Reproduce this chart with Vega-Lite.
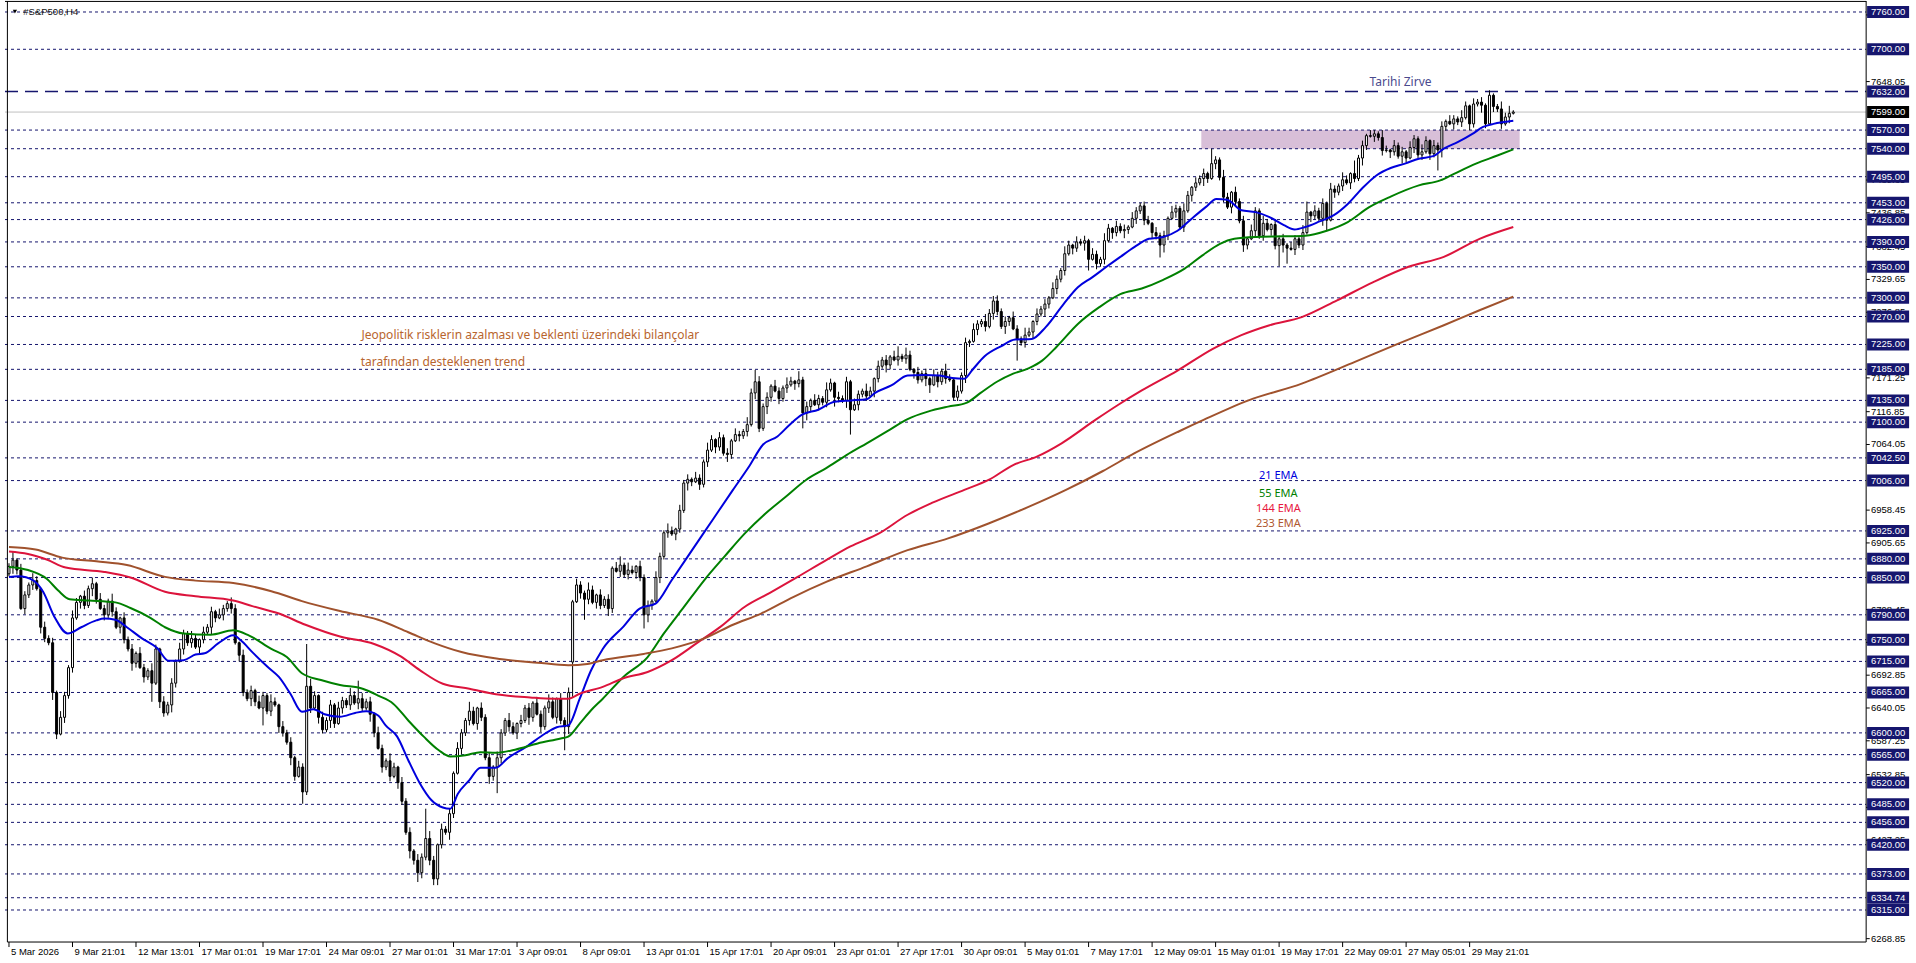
{
"$schema": "https://vega.github.io/schema/vega-lite/v6.json",
"width": 1916, "height": 963,
"autosize": {"type": "fit", "contains": "padding"},
"padding": 0,
"background": "#ffffff",
"config": {"view": {"stroke": null}, "axis": {"disable": true}},
"datasets": {
"one": [{}],
"levels": [
{"p":7760,"label":"7760.00","kind":"level"},{"p":7700,"label":"7700.00","kind":"level"},{"p":7632,"label":"7632.00","kind":"peak"},{"p":7599,"label":"7599.00","kind":"price"},{"p":7570,"label":"7570.00","kind":"level"},{"p":7540,"label":"7540.00","kind":"level"},{"p":7495,"label":"7495.00","kind":"level"},{"p":7453,"label":"7453.00","kind":"level"},{"p":7426,"label":"7426.00","kind":"level"},{"p":7390,"label":"7390.00","kind":"level"},{"p":7350,"label":"7350.00","kind":"level"},{"p":7300,"label":"7300.00","kind":"level"},{"p":7270,"label":"7270.00","kind":"level"},{"p":7225,"label":"7225.00","kind":"level"},{"p":7185,"label":"7185.00","kind":"level"},{"p":7135,"label":"7135.00","kind":"level"},{"p":7100,"label":"7100.00","kind":"level"},{"p":7042.5,"label":"7042.50","kind":"level"},{"p":7006,"label":"7006.00","kind":"level"},{"p":6925,"label":"6925.00","kind":"level"},{"p":6880,"label":"6880.00","kind":"level"},{"p":6850,"label":"6850.00","kind":"level"},{"p":6790,"label":"6790.00","kind":"level"},{"p":6750,"label":"6750.00","kind":"level"},{"p":6715,"label":"6715.00","kind":"level"},{"p":6665,"label":"6665.00","kind":"level"},{"p":6600,"label":"6600.00","kind":"level"},{"p":6565,"label":"6565.00","kind":"level"},{"p":6520,"label":"6520.00","kind":"level"},{"p":6485,"label":"6485.00","kind":"level"},{"p":6456,"label":"6456.00","kind":"level"},{"p":6420,"label":"6420.00","kind":"level"},{"p":6373,"label":"6373.00","kind":"level"},{"p":6334.74,"label":"6334.74","kind":"level"},{"p":6315,"label":"6315.00","kind":"level"}
],
"ticks": [
{"p":6268.85,"label":"6268.85"},{"p":6427.25,"label":"6427.25"},{"p":6480.05,"label":"6480.05"},{"p":6532.85,"label":"6532.85"},{"p":6587.25,"label":"6587.25"},{"p":6640.05,"label":"6640.05"},{"p":6692.85,"label":"6692.85"},{"p":6745.65,"label":"6745.65"},{"p":6798.45,"label":"6798.45"},{"p":6905.65,"label":"6905.65"},{"p":6958.45,"label":"6958.45"},{"p":7064.05,"label":"7064.05"},{"p":7116.85,"label":"7116.85"},{"p":7171.25,"label":"7171.25"},{"p":7276.85,"label":"7276.85"},{"p":7329.65,"label":"7329.65"},{"p":7382.45,"label":"7382.45"},{"p":7436.85,"label":"7436.85"},{"p":7489.65,"label":"7489.65"},{"p":7648.05,"label":"7648.05"},{"p":7755.25,"label":"7755.25"}
],
"times": [
{"i":0,"label":"5 Mar 2026"},{"i":16,"label":"9 Mar 21:01"},{"i":32,"label":"12 Mar 13:01"},{"i":48,"label":"17 Mar 01:01"},{"i":64,"label":"19 Mar 17:01"},{"i":80,"label":"24 Mar 09:01"},{"i":96,"label":"27 Mar 01:01"},{"i":112,"label":"31 Mar 17:01"},{"i":128,"label":"3 Apr 09:01"},{"i":144,"label":"8 Apr 09:01"},{"i":160,"label":"13 Apr 01:01"},{"i":176,"label":"15 Apr 17:01"},{"i":192,"label":"20 Apr 09:01"},{"i":208,"label":"23 Apr 01:01"},{"i":224,"label":"27 Apr 17:01"},{"i":240,"label":"30 Apr 09:01"},{"i":256,"label":"5 May 01:01"},{"i":272,"label":"7 May 17:01"},{"i":288,"label":"12 May 09:01"},{"i":304,"label":"15 May 01:01"},{"i":320,"label":"19 May 17:01"},{"i":336,"label":"22 May 09:01"},{"i":352,"label":"27 May 05:01"},{"i":368,"label":"29 May 21:01"}
],
"candles": [
{"i":0,"o":6856,"h":6873,"l":6852,"c":6868},{"i":1,"o":6868,"h":6891,"l":6856,"c":6878},{"i":2,"o":6878,"h":6881,"l":6855,"c":6862},{"i":3,"o":6862,"h":6872,"l":6798,"c":6800},{"i":4,"o":6800,"h":6828,"l":6791,"c":6822},{"i":5,"o":6822,"h":6842,"l":6817,"c":6838},{"i":6,"o":6838,"h":6857,"l":6830,"c":6845},{"i":7,"o":6845,"h":6852,"l":6829,"c":6832},{"i":8,"o":6832,"h":6834,"l":6760,"c":6770},{"i":9,"o":6770,"h":6779,"l":6746,"c":6752},
{"i":10,"o":6752,"h":6757,"l":6741,"c":6745},{"i":11,"o":6745,"h":6753,"l":6653,"c":6665},{"i":12,"o":6665,"h":6668,"l":6590,"c":6598},{"i":13,"o":6598,"h":6635,"l":6596,"c":6625},{"i":14,"o":6625,"h":6666,"l":6616,"c":6660},{"i":15,"o":6660,"h":6709,"l":6655,"c":6705},{"i":16,"o":6705,"h":6797,"l":6697,"c":6785},{"i":17,"o":6785,"h":6817,"l":6782,"c":6810},{"i":18,"o":6810,"h":6822,"l":6800,"c":6820},{"i":19,"o":6820,"h":6829,"l":6799,"c":6805},
{"i":20,"o":6805,"h":6837,"l":6801,"c":6832},{"i":21,"o":6832,"h":6850,"l":6820,"c":6840},{"i":22,"o":6840,"h":6843,"l":6808,"c":6815},{"i":23,"o":6815,"h":6825,"l":6798,"c":6800},{"i":24,"o":6800,"h":6806,"l":6781,"c":6790},{"i":25,"o":6790,"h":6816,"l":6785,"c":6812},{"i":26,"o":6812,"h":6824,"l":6787,"c":6795},{"i":27,"o":6795,"h":6802,"l":6767,"c":6770},{"i":28,"o":6770,"h":6787,"l":6760,"c":6785},{"i":29,"o":6785,"h":6794,"l":6744,"c":6750},
{"i":30,"o":6750,"h":6755,"l":6731,"c":6735},{"i":31,"o":6735,"h":6743,"l":6700,"c":6712},{"i":32,"o":6712,"h":6731,"l":6705,"c":6728},{"i":33,"o":6728,"h":6738,"l":6703,"c":6705},{"i":34,"o":6705,"h":6711,"l":6681,"c":6690},{"i":35,"o":6690,"h":6704,"l":6685,"c":6700},{"i":36,"o":6700,"h":6712,"l":6650,"c":6680},{"i":37,"o":6680,"h":6742,"l":6677,"c":6735},{"i":38,"o":6735,"h":6737,"l":6640,"c":6650},{"i":39,"o":6650,"h":6659,"l":6626,"c":6632},
{"i":40,"o":6632,"h":6650,"l":6628,"c":6645},{"i":41,"o":6645,"h":6688,"l":6633,"c":6680},{"i":42,"o":6680,"h":6718,"l":6673,"c":6715},{"i":43,"o":6715,"h":6745,"l":6713,"c":6735},{"i":44,"o":6735,"h":6766,"l":6726,"c":6760},{"i":45,"o":6760,"h":6764,"l":6740,"c":6745},{"i":46,"o":6745,"h":6764,"l":6737,"c":6752},{"i":47,"o":6752,"h":6759,"l":6735,"c":6738},{"i":48,"o":6738,"h":6752,"l":6728,"c":6750},{"i":49,"o":6750,"h":6771,"l":6744,"c":6762},
{"i":50,"o":6762,"h":6775,"l":6758,"c":6770},{"i":51,"o":6770,"h":6803,"l":6758,"c":6795},{"i":52,"o":6795,"h":6798,"l":6778,"c":6785},{"i":53,"o":6785,"h":6800,"l":6783,"c":6790},{"i":54,"o":6790,"h":6806,"l":6781,"c":6800},{"i":55,"o":6800,"h":6812,"l":6795,"c":6808},{"i":56,"o":6808,"h":6818,"l":6792,"c":6800},{"i":57,"o":6800,"h":6807,"l":6742,"c":6745},{"i":58,"o":6745,"h":6747,"l":6715,"c":6725},{"i":59,"o":6725,"h":6734,"l":6659,"c":6665},
{"i":60,"o":6665,"h":6670,"l":6651,"c":6655},{"i":61,"o":6655,"h":6676,"l":6643,"c":6668},{"i":62,"o":6668,"h":6671,"l":6643,"c":6650},{"i":63,"o":6650,"h":6660,"l":6638,"c":6640},{"i":64,"o":6640,"h":6666,"l":6612,"c":6660},{"i":65,"o":6660,"h":6664,"l":6630,"c":6635},{"i":66,"o":6635,"h":6662,"l":6627,"c":6650},{"i":67,"o":6650,"h":6657,"l":6642,"c":6645},{"i":68,"o":6645,"h":6647,"l":6600,"c":6610},{"i":69,"o":6610,"h":6619,"l":6594,"c":6600},
{"i":70,"o":6600,"h":6605,"l":6581,"c":6585},{"i":71,"o":6585,"h":6593,"l":6548,"c":6560},{"i":72,"o":6560,"h":6563,"l":6523,"c":6530},{"i":73,"o":6530,"h":6555,"l":6528,"c":6545},{"i":74,"o":6545,"h":6551,"l":6486,"c":6505},{"i":75,"o":6505,"h":6743,"l":6500,"c":6675},{"i":76,"o":6675,"h":6687,"l":6632,"c":6640},{"i":77,"o":6640,"h":6667,"l":6637,"c":6660},{"i":78,"o":6660,"h":6662,"l":6615,"c":6625},{"i":79,"o":6625,"h":6634,"l":6599,"c":6605},
{"i":80,"o":6605,"h":6625,"l":6601,"c":6620},{"i":81,"o":6620,"h":6653,"l":6608,"c":6645},{"i":82,"o":6645,"h":6648,"l":6608,"c":6615},{"i":83,"o":6615,"h":6650,"l":6613,"c":6640},{"i":84,"o":6640,"h":6658,"l":6631,"c":6652},{"i":85,"o":6652,"h":6656,"l":6640,"c":6645},{"i":86,"o":6645,"h":6672,"l":6637,"c":6660},{"i":87,"o":6660,"h":6667,"l":6645,"c":6648},{"i":88,"o":6648,"h":6684,"l":6638,"c":6655},{"i":89,"o":6655,"h":6664,"l":6634,"c":6640},
{"i":90,"o":6640,"h":6655,"l":6636,"c":6650},{"i":91,"o":6650,"h":6658,"l":6618,"c":6630},{"i":92,"o":6630,"h":6633,"l":6593,"c":6600},{"i":93,"o":6600,"h":6610,"l":6573,"c":6575},{"i":94,"o":6575,"h":6581,"l":6536,"c":6545},{"i":95,"o":6545,"h":6559,"l":6540,"c":6555},{"i":96,"o":6555,"h":6567,"l":6522,"c":6530},{"i":97,"o":6530,"h":6552,"l":6527,"c":6545},{"i":98,"o":6545,"h":6547,"l":6510,"c":6520},{"i":99,"o":6520,"h":6529,"l":6484,"c":6490},
{"i":100,"o":6490,"h":6495,"l":6436,"c":6440},{"i":101,"o":6440,"h":6448,"l":6398,"c":6410},{"i":102,"o":6410,"h":6413,"l":6388,"c":6395},{"i":103,"o":6395,"h":6405,"l":6360,"c":6375},{"i":104,"o":6375,"h":6406,"l":6366,"c":6400},{"i":105,"o":6400,"h":6478,"l":6395,"c":6430},{"i":106,"o":6430,"h":6442,"l":6387,"c":6395},{"i":107,"o":6395,"h":6402,"l":6355,"c":6365},{"i":108,"o":6365,"h":6422,"l":6355,"c":6420},{"i":109,"o":6420,"h":6454,"l":6414,"c":6445},
{"i":110,"o":6445,"h":6450,"l":6436,"c":6440},{"i":111,"o":6440,"h":6478,"l":6428,"c":6470},{"i":112,"o":6470,"h":6538,"l":6463,"c":6535},{"i":113,"o":6535,"h":6585,"l":6533,"c":6575},{"i":114,"o":6575,"h":6606,"l":6566,"c":6600},{"i":115,"o":6600,"h":6624,"l":6595,"c":6620},{"i":116,"o":6620,"h":6650,"l":6612,"c":6635},{"i":117,"o":6635,"h":6642,"l":6612,"c":6615},{"i":118,"o":6615,"h":6642,"l":6605,"c":6640},{"i":119,"o":6640,"h":6649,"l":6619,"c":6625},
{"i":120,"o":6625,"h":6630,"l":6556,"c":6560},{"i":121,"o":6560,"h":6568,"l":6518,"c":6530},{"i":122,"o":6530,"h":6548,"l":6523,"c":6545},{"i":123,"o":6545,"h":6570,"l":6503,"c":6560},{"i":124,"o":6560,"h":6606,"l":6551,"c":6600},{"i":125,"o":6600,"h":6624,"l":6595,"c":6620},{"i":126,"o":6620,"h":6632,"l":6602,"c":6610},{"i":127,"o":6610,"h":6617,"l":6597,"c":6600},{"i":128,"o":6600,"h":6617,"l":6590,"c":6615},{"i":129,"o":6615,"h":6629,"l":6609,"c":6620},
{"i":130,"o":6620,"h":6645,"l":6616,"c":6640},{"i":131,"o":6640,"h":6648,"l":6613,"c":6625},{"i":132,"o":6625,"h":6651,"l":6618,"c":6648},{"i":133,"o":6648,"h":6658,"l":6628,"c":6630},{"i":134,"o":6630,"h":6636,"l":6601,"c":6610},{"i":135,"o":6610,"h":6644,"l":6605,"c":6640},{"i":136,"o":6640,"h":6662,"l":6632,"c":6650},{"i":137,"o":6650,"h":6657,"l":6622,"c":6625},{"i":138,"o":6625,"h":6657,"l":6615,"c":6655},{"i":139,"o":6655,"h":6664,"l":6614,"c":6620},
{"i":140,"o":6620,"h":6625,"l":6572,"c":6610},{"i":141,"o":6610,"h":6673,"l":6598,"c":6665},{"i":142,"o":6714,"h":6814,"l":6658,"c":6811},{"i":143,"o":6811,"h":6848,"l":6809,"c":6838},{"i":144,"o":6838,"h":6844,"l":6816,"c":6825},{"i":145,"o":6825,"h":6829,"l":6782,"c":6815},{"i":146,"o":6815,"h":6842,"l":6807,"c":6830},{"i":147,"o":6830,"h":6837,"l":6807,"c":6810},{"i":148,"o":6810,"h":6824,"l":6800,"c":6822},{"i":149,"o":6822,"h":6831,"l":6799,"c":6805},
{"i":150,"o":6805,"h":6820,"l":6801,"c":6815},{"i":151,"o":6815,"h":6823,"l":6788,"c":6800},{"i":152,"o":6800,"h":6868,"l":6793,"c":6865},{"i":153,"o":6865,"h":6875,"l":6858,"c":6860},{"i":154,"o":6860,"h":6884,"l":6851,"c":6870},{"i":155,"o":6870,"h":6874,"l":6850,"c":6855},{"i":156,"o":6855,"h":6874,"l":6847,"c":6862},{"i":157,"o":6862,"h":6869,"l":6855,"c":6858},{"i":158,"o":6858,"h":6870,"l":6848,"c":6868},{"i":159,"o":6868,"h":6877,"l":6844,"c":6850},
{"i":160,"o":6850,"h":6855,"l":6768,"c":6790},{"i":161,"o":6790,"h":6813,"l":6778,"c":6805},{"i":162,"o":6805,"h":6815,"l":6798,"c":6812},{"i":163,"o":6812,"h":6860,"l":6810,"c":6850},{"i":164,"o":6850,"h":6890,"l":6841,"c":6884},{"i":165,"o":6884,"h":6926,"l":6879,"c":6922},{"i":166,"o":6922,"h":6937,"l":6914,"c":6925},{"i":167,"o":6925,"h":6932,"l":6917,"c":6920},{"i":168,"o":6920,"h":6930,"l":6910,"c":6928},{"i":169,"o":6928,"h":6967,"l":6922,"c":6958},
{"i":170,"o":6958,"h":7007,"l":6954,"c":7002},{"i":171,"o":7002,"h":7016,"l":6990,"c":7008},{"i":172,"o":7008,"h":7011,"l":6997,"c":7004},{"i":173,"o":7004,"h":7020,"l":7002,"c":7010},{"i":174,"o":7010,"h":7016,"l":6991,"c":7000},{"i":175,"o":7000,"h":7040,"l":6995,"c":7036},{"i":176,"o":7036,"h":7067,"l":7028,"c":7055},{"i":177,"o":7055,"h":7079,"l":7052,"c":7072},{"i":178,"o":7072,"h":7074,"l":7050,"c":7060},{"i":179,"o":7060,"h":7084,"l":7054,"c":7075},
{"i":180,"o":7075,"h":7080,"l":7046,"c":7050},{"i":181,"o":7050,"h":7058,"l":7036,"c":7048},{"i":182,"o":7048,"h":7073,"l":7041,"c":7070},{"i":183,"o":7070,"h":7090,"l":7068,"c":7080},{"i":184,"o":7080,"h":7086,"l":7069,"c":7078},{"i":185,"o":7078,"h":7089,"l":7073,"c":7085},{"i":186,"o":7085,"h":7108,"l":7077,"c":7096},{"i":187,"o":7096,"h":7154,"l":7093,"c":7147},{"i":188,"o":7147,"h":7184,"l":7137,"c":7165},{"i":189,"o":7165,"h":7174,"l":7084,"c":7090},
{"i":190,"o":7090,"h":7130,"l":7086,"c":7125},{"i":191,"o":7125,"h":7148,"l":7113,"c":7140},{"i":192,"o":7140,"h":7161,"l":7133,"c":7158},{"i":193,"o":7158,"h":7168,"l":7148,"c":7150},{"i":194,"o":7150,"h":7156,"l":7129,"c":7138},{"i":195,"o":7138,"h":7159,"l":7133,"c":7155},{"i":196,"o":7155,"h":7172,"l":7147,"c":7160},{"i":197,"o":7160,"h":7173,"l":7157,"c":7166},{"i":198,"o":7166,"h":7168,"l":7152,"c":7162},{"i":199,"o":7162,"h":7182,"l":7156,"c":7168},
{"i":200,"o":7168,"h":7173,"l":7090,"c":7115},{"i":201,"o":7115,"h":7133,"l":7103,"c":7125},{"i":202,"o":7125,"h":7138,"l":7118,"c":7135},{"i":203,"o":7135,"h":7145,"l":7126,"c":7128},{"i":204,"o":7128,"h":7144,"l":7119,"c":7138},{"i":205,"o":7138,"h":7142,"l":7127,"c":7132},{"i":206,"o":7132,"h":7164,"l":7124,"c":7152},{"i":207,"o":7152,"h":7170,"l":7149,"c":7163},{"i":208,"o":7163,"h":7165,"l":7125,"c":7140},{"i":209,"o":7140,"h":7149,"l":7132,"c":7138},
{"i":210,"o":7138,"h":7143,"l":7131,"c":7135},{"i":211,"o":7135,"h":7173,"l":7123,"c":7165},{"i":212,"o":7165,"h":7168,"l":7080,"c":7120},{"i":213,"o":7120,"h":7138,"l":7118,"c":7128},{"i":214,"o":7128,"h":7151,"l":7119,"c":7145},{"i":215,"o":7145,"h":7154,"l":7140,"c":7150},{"i":216,"o":7150,"h":7162,"l":7134,"c":7142},{"i":217,"o":7142,"h":7157,"l":7139,"c":7150},{"i":218,"o":7150,"h":7172,"l":7140,"c":7170},{"i":219,"o":7170,"h":7199,"l":7164,"c":7190},
{"i":220,"o":7190,"h":7205,"l":7186,"c":7200},{"i":221,"o":7200,"h":7208,"l":7180,"c":7192},{"i":222,"o":7192,"h":7208,"l":7185,"c":7205},{"i":223,"o":7205,"h":7215,"l":7198,"c":7200},{"i":224,"o":7200,"h":7222,"l":7191,"c":7206},{"i":225,"o":7206,"h":7210,"l":7197,"c":7202},{"i":226,"o":7202,"h":7220,"l":7194,"c":7208},{"i":227,"o":7208,"h":7215,"l":7182,"c":7185},{"i":228,"o":7185,"h":7187,"l":7170,"c":7180},{"i":229,"o":7180,"h":7189,"l":7162,"c":7168},
{"i":230,"o":7168,"h":7183,"l":7164,"c":7178},{"i":231,"o":7178,"h":7186,"l":7158,"c":7170},{"i":232,"o":7170,"h":7173,"l":7147,"c":7160},{"i":233,"o":7160,"h":7185,"l":7158,"c":7175},{"i":234,"o":7175,"h":7181,"l":7156,"c":7165},{"i":235,"o":7165,"h":7186,"l":7160,"c":7182},{"i":236,"o":7182,"h":7194,"l":7162,"c":7170},{"i":237,"o":7170,"h":7177,"l":7165,"c":7168},{"i":238,"o":7168,"h":7170,"l":7135,"c":7140},{"i":239,"o":7140,"h":7159,"l":7134,"c":7150},
{"i":240,"o":7150,"h":7180,"l":7146,"c":7175},{"i":241,"o":7175,"h":7236,"l":7163,"c":7228},{"i":242,"o":7228,"h":7233,"l":7221,"c":7230},{"i":243,"o":7230,"h":7259,"l":7228,"c":7249},{"i":244,"o":7249,"h":7264,"l":7240,"c":7258},{"i":245,"o":7258,"h":7266,"l":7253,"c":7262},{"i":246,"o":7262,"h":7274,"l":7246,"c":7254},{"i":247,"o":7254,"h":7282,"l":7251,"c":7275},{"i":248,"o":7275,"h":7303,"l":7265,"c":7295},{"i":249,"o":7295,"h":7304,"l":7272,"c":7278},
{"i":250,"o":7278,"h":7283,"l":7250,"c":7254},{"i":251,"o":7254,"h":7270,"l":7242,"c":7262},{"i":252,"o":7262,"h":7271,"l":7255,"c":7268},{"i":253,"o":7268,"h":7278,"l":7248,"c":7250},{"i":254,"o":7250,"h":7256,"l":7199,"c":7234},{"i":255,"o":7234,"h":7238,"l":7223,"c":7228},{"i":256,"o":7228,"h":7252,"l":7220,"c":7240},{"i":257,"o":7240,"h":7252,"l":7237,"c":7245},{"i":258,"o":7245,"h":7264,"l":7235,"c":7262},{"i":259,"o":7262,"h":7283,"l":7256,"c":7274},
{"i":260,"o":7274,"h":7287,"l":7270,"c":7282},{"i":261,"o":7282,"h":7298,"l":7270,"c":7290},{"i":262,"o":7290,"h":7303,"l":7283,"c":7300},{"i":263,"o":7300,"h":7325,"l":7298,"c":7315},{"i":264,"o":7315,"h":7336,"l":7306,"c":7330},{"i":265,"o":7330,"h":7348,"l":7325,"c":7344},{"i":266,"o":7344,"h":7383,"l":7336,"c":7371},{"i":267,"o":7371,"h":7392,"l":7368,"c":7385},{"i":268,"o":7385,"h":7387,"l":7370,"c":7380},{"i":269,"o":7380,"h":7399,"l":7374,"c":7390},
{"i":270,"o":7390,"h":7395,"l":7384,"c":7388},{"i":271,"o":7388,"h":7400,"l":7376,"c":7392},{"i":272,"o":7392,"h":7395,"l":7344,"c":7362},{"i":273,"o":7362,"h":7380,"l":7360,"c":7370},{"i":274,"o":7370,"h":7376,"l":7346,"c":7355},{"i":275,"o":7355,"h":7366,"l":7350,"c":7362},{"i":276,"o":7362,"h":7404,"l":7354,"c":7392},{"i":277,"o":7392,"h":7419,"l":7389,"c":7412},{"i":278,"o":7412,"h":7414,"l":7395,"c":7405},{"i":279,"o":7405,"h":7424,"l":7399,"c":7415},
{"i":280,"o":7415,"h":7420,"l":7404,"c":7408},{"i":281,"o":7408,"h":7418,"l":7396,"c":7410},{"i":282,"o":7410,"h":7417,"l":7403,"c":7414},{"i":283,"o":7414,"h":7438,"l":7412,"c":7428},{"i":284,"o":7428,"h":7446,"l":7419,"c":7440},{"i":285,"o":7440,"h":7453,"l":7435,"c":7448},{"i":286,"o":7448,"h":7455,"l":7417,"c":7425},{"i":287,"o":7425,"h":7432,"l":7417,"c":7420},{"i":288,"o":7420,"h":7422,"l":7395,"c":7405},{"i":289,"o":7405,"h":7414,"l":7394,"c":7400},
{"i":290,"o":7400,"h":7405,"l":7365,"c":7385},{"i":291,"o":7385,"h":7408,"l":7373,"c":7400},{"i":292,"o":7400,"h":7431,"l":7393,"c":7428},{"i":293,"o":7428,"h":7448,"l":7426,"c":7438},{"i":294,"o":7438,"h":7450,"l":7429,"c":7444},{"i":295,"o":7444,"h":7448,"l":7409,"c":7414},{"i":296,"o":7414,"h":7452,"l":7406,"c":7440},{"i":297,"o":7440,"h":7472,"l":7437,"c":7465},{"i":298,"o":7465,"h":7480,"l":7455,"c":7478},{"i":299,"o":7478,"h":7494,"l":7472,"c":7485},
{"i":300,"o":7485,"h":7497,"l":7481,"c":7492},{"i":301,"o":7492,"h":7508,"l":7480,"c":7500},{"i":302,"o":7500,"h":7503,"l":7485,"c":7492},{"i":303,"o":7492,"h":7540,"l":7490,"c":7516},{"i":304,"o":7516,"h":7528,"l":7507,"c":7522},{"i":305,"o":7522,"h":7526,"l":7489,"c":7494},{"i":306,"o":7494,"h":7506,"l":7454,"c":7462},{"i":307,"o":7462,"h":7469,"l":7443,"c":7446},{"i":308,"o":7446,"h":7472,"l":7436,"c":7470},{"i":309,"o":7470,"h":7479,"l":7449,"c":7455},
{"i":310,"o":7455,"h":7460,"l":7420,"c":7424},{"i":311,"o":7424,"h":7432,"l":7374,"c":7385},{"i":312,"o":7385,"h":7398,"l":7378,"c":7395},{"i":313,"o":7395,"h":7418,"l":7393,"c":7408},{"i":314,"o":7408,"h":7446,"l":7399,"c":7440},{"i":315,"o":7440,"h":7444,"l":7395,"c":7400},{"i":316,"o":7400,"h":7432,"l":7392,"c":7420},{"i":317,"o":7420,"h":7427,"l":7407,"c":7410},{"i":318,"o":7410,"h":7420,"l":7400,"c":7418},{"i":319,"o":7418,"h":7427,"l":7378,"c":7384},
{"i":320,"o":7384,"h":7400,"l":7351,"c":7395},{"i":321,"o":7395,"h":7403,"l":7373,"c":7385},{"i":322,"o":7385,"h":7388,"l":7355,"c":7380},{"i":323,"o":7380,"h":7390,"l":7376,"c":7378},{"i":324,"o":7378,"h":7401,"l":7369,"c":7395},{"i":325,"o":7395,"h":7399,"l":7380,"c":7385},{"i":326,"o":7385,"h":7417,"l":7377,"c":7405},{"i":327,"o":7405,"h":7455,"l":7402,"c":7438},{"i":328,"o":7438,"h":7440,"l":7422,"c":7432},{"i":329,"o":7432,"h":7449,"l":7426,"c":7440},
{"i":330,"o":7440,"h":7445,"l":7424,"c":7428},{"i":331,"o":7428,"h":7460,"l":7416,"c":7452},{"i":332,"o":7452,"h":7455,"l":7408,"c":7425},{"i":333,"o":7425,"h":7485,"l":7423,"c":7475},{"i":334,"o":7475,"h":7481,"l":7461,"c":7470},{"i":335,"o":7470,"h":7484,"l":7465,"c":7480},{"i":336,"o":7480,"h":7502,"l":7472,"c":7490},{"i":337,"o":7490,"h":7497,"l":7482,"c":7485},{"i":338,"o":7485,"h":7502,"l":7475,"c":7500},{"i":339,"o":7500,"h":7521,"l":7486,"c":7492},
{"i":340,"o":7492,"h":7530,"l":7488,"c":7525},{"i":341,"o":7525,"h":7553,"l":7513,"c":7545},{"i":342,"o":7545,"h":7564,"l":7538,"c":7561},{"i":343,"o":7561,"h":7570,"l":7558,"c":7560},{"i":344,"o":7560,"h":7570,"l":7551,"c":7564},{"i":345,"o":7564,"h":7568,"l":7553,"c":7558},{"i":346,"o":7558,"h":7570,"l":7529,"c":7537},{"i":347,"o":7537,"h":7545,"l":7534,"c":7538},{"i":348,"o":7538,"h":7540,"l":7525,"c":7535},{"i":349,"o":7535,"h":7554,"l":7529,"c":7545},
{"i":350,"o":7545,"h":7550,"l":7524,"c":7528},{"i":351,"o":7528,"h":7543,"l":7516,"c":7535},{"i":352,"o":7535,"h":7538,"l":7518,"c":7525},{"i":353,"o":7525,"h":7552,"l":7523,"c":7542},{"i":354,"o":7542,"h":7562,"l":7533,"c":7556},{"i":355,"o":7556,"h":7560,"l":7525,"c":7530},{"i":356,"o":7530,"h":7547,"l":7522,"c":7535},{"i":357,"o":7535,"h":7560,"l":7532,"c":7553},{"i":358,"o":7553,"h":7555,"l":7522,"c":7532},{"i":359,"o":7532,"h":7554,"l":7526,"c":7545},
{"i":360,"o":7545,"h":7550,"l":7505,"c":7538},{"i":361,"o":7538,"h":7584,"l":7526,"c":7576},{"i":362,"o":7576,"h":7587,"l":7569,"c":7584},{"i":363,"o":7584,"h":7594,"l":7578,"c":7580},{"i":364,"o":7580,"h":7594,"l":7571,"c":7588},{"i":365,"o":7588,"h":7592,"l":7578,"c":7583},{"i":366,"o":7583,"h":7602,"l":7575,"c":7590},{"i":367,"o":7590,"h":7616,"l":7587,"c":7609},{"i":368,"o":7609,"h":7611,"l":7570,"c":7580},{"i":369,"o":7580,"h":7621,"l":7574,"c":7612},
{"i":370,"o":7612,"h":7620,"l":7608,"c":7615},{"i":371,"o":7615,"h":7623,"l":7598,"c":7610},{"i":372,"o":7610,"h":7613,"l":7573,"c":7580},{"i":373,"o":7580,"h":7634,"l":7578,"c":7626},{"i":374,"o":7626,"h":7629,"l":7599,"c":7608},{"i":375,"o":7608,"h":7612,"l":7599,"c":7604},{"i":376,"o":7604,"h":7616,"l":7572,"c":7580},{"i":377,"o":7580,"h":7598,"l":7577,"c":7591},{"i":378,"o":7591,"h":7609,"l":7581,"c":7597},{"i":379,"o":7597,"h":7602,"l":7595,"c":7599}
],
"ema": [
{"s":"21 EMA","i":0,"v":6851},{"s":"21 EMA","i":2.4,"v":6852},{"s":"21 EMA","i":6.2,"v":6845},{"s":"21 EMA","i":8.6,"v":6827},{"s":"21 EMA","i":11.5,"v":6786},{"s":"21 EMA","i":14.8,"v":6760},{"s":"21 EMA","i":18.2,"v":6770},{"s":"21 EMA","i":22,"v":6781},{"s":"21 EMA","i":24,"v":6784},{"s":"21 EMA","i":26.8,"v":6782},{"s":"21 EMA","i":29.7,"v":6770},{"s":"21 EMA","i":33.5,"v":6752},{"s":"21 EMA","i":37.4,"v":6736},{"s":"21 EMA","i":40.2,"v":6716},{"s":"21 EMA","i":44,"v":6717},{"s":"21 EMA","i":47,"v":6726},{"s":"21 EMA","i":49.3,"v":6728},{"s":"21 EMA","i":52.7,"v":6744},{"s":"21 EMA","i":56.5,"v":6757},{"s":"21 EMA","i":58.4,"v":6749},{"s":"21 EMA","i":61.3,"v":6730},{"s":"21 EMA","i":65.2,"v":6706},{"s":"21 EMA","i":68,"v":6690},{"s":"21 EMA","i":70.9,"v":6663},{"s":"21 EMA","i":73.8,"v":6634},{"s":"21 EMA","i":76.7,"v":6638},{"s":"21 EMA","i":79.5,"v":6630},{"s":"21 EMA","i":83.4,"v":6626},{"s":"21 EMA","i":87.2,"v":6632},{"s":"21 EMA","i":90,"v":6635},{"s":"21 EMA","i":93,"v":6628},{"s":"21 EMA","i":94.9,"v":6612},{"s":"21 EMA","i":97.8,"v":6594},{"s":"21 EMA","i":100.6,"v":6556},{"s":"21 EMA","i":103.5,"v":6519},{"s":"21 EMA","i":106.4,"v":6492},{"s":"21 EMA","i":109.3,"v":6480},{"s":"21 EMA","i":111.2,"v":6478},{"s":"21 EMA","i":113.1,"v":6502},{"s":"21 EMA","i":116,"v":6524},{"s":"21 EMA","i":118.8,"v":6544},{"s":"21 EMA","i":122.7,"v":6544},{"s":"21 EMA","i":125.6,"v":6559},{"s":"21 EMA","i":130.4,"v":6578},{"s":"21 EMA","i":135.1,"v":6599},{"s":"21 EMA","i":138,"v":6609},{"s":"21 EMA","i":140.9,"v":6612},{"s":"21 EMA","i":143.8,"v":6655},{"s":"21 EMA","i":146.6,"v":6700},{"s":"21 EMA","i":149.6,"v":6735},{"s":"21 EMA","i":154.8,"v":6771},{"s":"21 EMA","i":158.9,"v":6800},{"s":"21 EMA","i":162.9,"v":6808},{"s":"21 EMA","i":167,"v":6846},{"s":"21 EMA","i":172.1,"v":6894},{"s":"21 EMA","i":177.3,"v":6943},{"s":"21 EMA","i":182.4,"v":6991},{"s":"21 EMA","i":186.5,"v":7029},{"s":"21 EMA","i":190,"v":7064},{"s":"21 EMA","i":193.6,"v":7077},{"s":"21 EMA","i":196.7,"v":7096},{"s":"21 EMA","i":199.8,"v":7112},{"s":"21 EMA","i":203.9,"v":7120},{"s":"21 EMA","i":208,"v":7133},{"s":"21 EMA","i":212.1,"v":7135},{"s":"21 EMA","i":216.1,"v":7137},{"s":"21 EMA","i":218.2,"v":7147},{"s":"21 EMA","i":222.3,"v":7159},{"s":"21 EMA","i":226.4,"v":7175},{"s":"21 EMA","i":230.5,"v":7176},{"s":"21 EMA","i":234.5,"v":7175},{"s":"21 EMA","i":237.6,"v":7171},{"s":"21 EMA","i":240.7,"v":7170},{"s":"21 EMA","i":242.7,"v":7184},{"s":"21 EMA","i":245.8,"v":7206},{"s":"21 EMA","i":249.9,"v":7222},{"s":"21 EMA","i":253.5,"v":7233},{"s":"21 EMA","i":257.7,"v":7234},{"s":"21 EMA","i":261.2,"v":7253},{"s":"21 EMA","i":265.7,"v":7290},{"s":"21 EMA","i":269.3,"v":7317},{"s":"21 EMA","i":272.9,"v":7333},{"s":"21 EMA","i":276.5,"v":7350},{"s":"21 EMA","i":280,"v":7366},{"s":"21 EMA","i":283.6,"v":7382},{"s":"21 EMA","i":287.2,"v":7395},{"s":"21 EMA","i":290.8,"v":7398},{"s":"21 EMA","i":294.4,"v":7408},{"s":"21 EMA","i":297.9,"v":7427},{"s":"21 EMA","i":301.5,"v":7446},{"s":"21 EMA","i":304.2,"v":7459},{"s":"21 EMA","i":306.9,"v":7458},{"s":"21 EMA","i":310.5,"v":7441},{"s":"21 EMA","i":314.1,"v":7438},{"s":"21 EMA","i":317.6,"v":7430},{"s":"21 EMA","i":321.2,"v":7417},{"s":"21 EMA","i":323.9,"v":7410},{"s":"21 EMA","i":326.6,"v":7414},{"s":"21 EMA","i":330.2,"v":7423},{"s":"21 EMA","i":333.8,"v":7433},{"s":"21 EMA","i":337.3,"v":7451},{"s":"21 EMA","i":340.9,"v":7476},{"s":"21 EMA","i":344.5,"v":7497},{"s":"21 EMA","i":348.1,"v":7509},{"s":"21 EMA","i":351.7,"v":7516},{"s":"21 EMA","i":355.2,"v":7524},{"s":"21 EMA","i":358.8,"v":7528},{"s":"21 EMA","i":361.5,"v":7540},{"s":"21 EMA","i":365.1,"v":7551},{"s":"21 EMA","i":368.7,"v":7564},{"s":"21 EMA","i":371.4,"v":7575},{"s":"21 EMA","i":374,"v":7580},{"s":"21 EMA","i":376.7,"v":7583},{"s":"21 EMA","i":379,"v":7585},
{"s":"55 EMA","i":0,"v":6867},{"s":"55 EMA","i":4.8,"v":6862},{"s":"55 EMA","i":9.5,"v":6848},{"s":"55 EMA","i":12.4,"v":6829},{"s":"55 EMA","i":15.3,"v":6815},{"s":"55 EMA","i":20.1,"v":6813},{"s":"55 EMA","i":26.8,"v":6810},{"s":"55 EMA","i":30.6,"v":6801},{"s":"55 EMA","i":35.4,"v":6786},{"s":"55 EMA","i":39.3,"v":6770},{"s":"55 EMA","i":44,"v":6760},{"s":"55 EMA","i":50.8,"v":6758},{"s":"55 EMA","i":56.5,"v":6765},{"s":"55 EMA","i":60.4,"v":6757},{"s":"55 EMA","i":66.1,"v":6735},{"s":"55 EMA","i":70,"v":6722},{"s":"55 EMA","i":73.8,"v":6696},{"s":"55 EMA","i":78.6,"v":6685},{"s":"55 EMA","i":83.4,"v":6677},{"s":"55 EMA","i":89.1,"v":6671},{"s":"55 EMA","i":93,"v":6660},{"s":"55 EMA","i":96.8,"v":6647},{"s":"55 EMA","i":100.6,"v":6620},{"s":"55 EMA","i":104.5,"v":6594},{"s":"55 EMA","i":108.3,"v":6572},{"s":"55 EMA","i":111.2,"v":6562},{"s":"55 EMA","i":115,"v":6564},{"s":"55 EMA","i":118.8,"v":6569},{"s":"55 EMA","i":122.7,"v":6568},{"s":"55 EMA","i":127.5,"v":6573},{"s":"55 EMA","i":133.2,"v":6583},{"s":"55 EMA","i":139,"v":6591},{"s":"55 EMA","i":140.9,"v":6594},{"s":"55 EMA","i":143.8,"v":6615},{"s":"55 EMA","i":146.6,"v":6636},{"s":"55 EMA","i":149.6,"v":6655},{"s":"55 EMA","i":154.8,"v":6690},{"s":"55 EMA","i":160.9,"v":6722},{"s":"55 EMA","i":165,"v":6760},{"s":"55 EMA","i":170.1,"v":6803},{"s":"55 EMA","i":175.2,"v":6846},{"s":"55 EMA","i":180.3,"v":6884},{"s":"55 EMA","i":185.4,"v":6921},{"s":"55 EMA","i":190.6,"v":6953},{"s":"55 EMA","i":195.7,"v":6980},{"s":"55 EMA","i":200.8,"v":7007},{"s":"55 EMA","i":205.9,"v":7026},{"s":"55 EMA","i":211,"v":7047},{"s":"55 EMA","i":216.1,"v":7066},{"s":"55 EMA","i":221.2,"v":7085},{"s":"55 EMA","i":226.4,"v":7105},{"s":"55 EMA","i":231.5,"v":7117},{"s":"55 EMA","i":236.6,"v":7125},{"s":"55 EMA","i":241.2,"v":7131},{"s":"55 EMA","i":244.8,"v":7147},{"s":"55 EMA","i":248.9,"v":7165},{"s":"55 EMA","i":253,"v":7178},{"s":"55 EMA","i":257,"v":7187},{"s":"55 EMA","i":260.3,"v":7199},{"s":"55 EMA","i":263.9,"v":7221},{"s":"55 EMA","i":269.3,"v":7258},{"s":"55 EMA","i":274.7,"v":7285},{"s":"55 EMA","i":280,"v":7306},{"s":"55 EMA","i":285.4,"v":7315},{"s":"55 EMA","i":290.8,"v":7329},{"s":"55 EMA","i":296.2,"v":7347},{"s":"55 EMA","i":300.6,"v":7368},{"s":"55 EMA","i":305.1,"v":7387},{"s":"55 EMA","i":308.7,"v":7395},{"s":"55 EMA","i":314.1,"v":7398},{"s":"55 EMA","i":321.2,"v":7399},{"s":"55 EMA","i":326.6,"v":7400},{"s":"55 EMA","i":332,"v":7408},{"s":"55 EMA","i":337.3,"v":7422},{"s":"55 EMA","i":342.7,"v":7446},{"s":"55 EMA","i":348.1,"v":7463},{"s":"55 EMA","i":355.2,"v":7481},{"s":"55 EMA","i":360.6,"v":7489},{"s":"55 EMA","i":364.2,"v":7500},{"s":"55 EMA","i":369.6,"v":7516},{"s":"55 EMA","i":375,"v":7529},{"s":"55 EMA","i":379,"v":7539},
{"s":"144 EMA","i":0,"v":6892},{"s":"144 EMA","i":4.8,"v":6888},{"s":"144 EMA","i":9.5,"v":6879},{"s":"144 EMA","i":14.3,"v":6866},{"s":"144 EMA","i":24,"v":6859},{"s":"144 EMA","i":30.6,"v":6850},{"s":"144 EMA","i":39.3,"v":6827},{"s":"144 EMA","i":47,"v":6820},{"s":"144 EMA","i":56.5,"v":6813},{"s":"144 EMA","i":61.3,"v":6804},{"s":"144 EMA","i":68,"v":6792},{"s":"144 EMA","i":74.7,"v":6774},{"s":"144 EMA","i":83.4,"v":6755},{"s":"144 EMA","i":92,"v":6743},{"s":"144 EMA","i":98.7,"v":6723},{"s":"144 EMA","i":103.5,"v":6701},{"s":"144 EMA","i":109.3,"v":6679},{"s":"144 EMA","i":116,"v":6671},{"s":"144 EMA","i":122.7,"v":6662},{"s":"144 EMA","i":131.3,"v":6657},{"s":"144 EMA","i":137.1,"v":6655},{"s":"144 EMA","i":140.9,"v":6655},{"s":"144 EMA","i":143.8,"v":6663},{"s":"144 EMA","i":149.6,"v":6674},{"s":"144 EMA","i":154.8,"v":6688},{"s":"144 EMA","i":160.9,"v":6698},{"s":"144 EMA","i":167,"v":6717},{"s":"144 EMA","i":173.2,"v":6744},{"s":"144 EMA","i":179.3,"v":6771},{"s":"144 EMA","i":185.4,"v":6803},{"s":"144 EMA","i":191.6,"v":6825},{"s":"144 EMA","i":198.7,"v":6851},{"s":"144 EMA","i":205.9,"v":6878},{"s":"144 EMA","i":212,"v":6900},{"s":"144 EMA","i":219.2,"v":6921},{"s":"144 EMA","i":226.4,"v":6951},{"s":"144 EMA","i":232.5,"v":6970},{"s":"144 EMA","i":240.7,"v":6991},{"s":"144 EMA","i":246.8,"v":7007},{"s":"144 EMA","i":253,"v":7031},{"s":"144 EMA","i":259.1,"v":7045},{"s":"144 EMA","i":265.2,"v":7066},{"s":"144 EMA","i":273.8,"v":7104},{"s":"144 EMA","i":279.5,"v":7128},{"s":"144 EMA","i":285.4,"v":7151},{"s":"144 EMA","i":294.4,"v":7183},{"s":"144 EMA","i":303.3,"v":7218},{"s":"144 EMA","i":310.5,"v":7240},{"s":"144 EMA","i":317.6,"v":7256},{"s":"144 EMA","i":325.7,"v":7269},{"s":"144 EMA","i":334.6,"v":7296},{"s":"144 EMA","i":343.6,"v":7325},{"s":"144 EMA","i":352.6,"v":7350},{"s":"144 EMA","i":361.5,"v":7366},{"s":"144 EMA","i":370.5,"v":7395},{"s":"144 EMA","i":379,"v":7414},
{"s":"233 EMA","i":0,"v":6899},{"s":"233 EMA","i":6.7,"v":6895},{"s":"233 EMA","i":13.4,"v":6882},{"s":"233 EMA","i":22,"v":6876},{"s":"233 EMA","i":29.7,"v":6870},{"s":"233 EMA","i":39.3,"v":6851},{"s":"233 EMA","i":47,"v":6845},{"s":"233 EMA","i":56.5,"v":6841},{"s":"233 EMA","i":66.1,"v":6828},{"s":"233 EMA","i":73.8,"v":6812},{"s":"233 EMA","i":83.4,"v":6796},{"s":"233 EMA","i":93,"v":6782},{"s":"233 EMA","i":100.6,"v":6762},{"s":"233 EMA","i":107.3,"v":6744},{"s":"233 EMA","i":114,"v":6730},{"s":"233 EMA","i":123.6,"v":6719},{"s":"233 EMA","i":133.2,"v":6713},{"s":"233 EMA","i":140.9,"v":6709},{"s":"233 EMA","i":145.7,"v":6711},{"s":"233 EMA","i":149.6,"v":6717},{"s":"233 EMA","i":159.9,"v":6727},{"s":"233 EMA","i":167,"v":6736},{"s":"233 EMA","i":175.2,"v":6752},{"s":"233 EMA","i":182.4,"v":6774},{"s":"233 EMA","i":189.5,"v":6792},{"s":"233 EMA","i":197.7,"v":6819},{"s":"233 EMA","i":205.9,"v":6843},{"s":"233 EMA","i":216.1,"v":6868},{"s":"233 EMA","i":226.4,"v":6894},{"s":"233 EMA","i":236.6,"v":6913},{"s":"233 EMA","i":246.8,"v":6937},{"s":"233 EMA","i":257,"v":6964},{"s":"233 EMA","i":266.3,"v":6991},{"s":"233 EMA","i":275.5,"v":7021},{"s":"233 EMA","i":283.6,"v":7050},{"s":"233 EMA","i":294.7,"v":7085},{"s":"233 EMA","i":301.1,"v":7104},{"s":"233 EMA","i":312.3,"v":7135},{"s":"233 EMA","i":325.7,"v":7162},{"s":"233 EMA","i":339.1,"v":7197},{"s":"233 EMA","i":349.9,"v":7226},{"s":"233 EMA","i":361.5,"v":7256},{"s":"233 EMA","i":370.5,"v":7280},{"s":"233 EMA","i":379,"v":7302}
]
},
"layer": [
{"data": {"name": "one"}, "mark": {"type": "rect", "color": "#d8bfd8"},
 "encoding": {
  "x": {"datum": 300.4, "type": "quantitative", "scale": {"domain": [-1.0025, 479.2], "nice": false, "zero": false}, "axis": null},
  "x2": {"datum": 380.6},
  "y": {"datum": 7540, "type": "quantitative", "scale": {"domain": [6229.7, 7777.7], "nice": false, "zero": false}, "axis": null},
  "y2": {"datum": 7570}}},
{"data": {"name": "levels"}, "transform": [{"filter": "datum.kind === 'level'"}],
 "mark": {"type": "rule", "color": "#16166e", "strokeWidth": 1, "strokeDash": [3, 3]},
 "encoding": {"x": {"datum": -1.0025, "type": "quantitative"}, "x2": {"datum": 467.9}, "y": {"field": "p", "type": "quantitative"}}},
{"data": {"name": "levels"}, "transform": [{"filter": "datum.kind === 'peak'"}],
 "mark": {"type": "rule", "color": "#16166e", "strokeWidth": 1.5, "strokeDash": [13, 7]},
 "encoding": {"x": {"datum": -1.0025, "type": "quantitative"}, "x2": {"datum": 467.9}, "y": {"field": "p", "type": "quantitative"}}},
{"data": {"name": "levels"}, "transform": [{"filter": "datum.kind === 'price'"}],
 "mark": {"type": "rule", "color": "#c0c0c0", "strokeWidth": 1},
 "encoding": {"x": {"datum": -1.0025, "type": "quantitative"}, "x2": {"datum": 467.9}, "y": {"field": "p", "type": "quantitative"}}},
{"data": {"name": "candles"},
 "mark": {"type": "rule", "color": "#000000", "strokeWidth": 1},
 "encoding": {"x": {"field": "i", "type": "quantitative"}, "y": {"field": "l", "type": "quantitative"}, "y2": {"field": "h"}}},
{"data": {"name": "candles"},
 "mark": {"type": "bar", "orient": "vertical", "width": 2, "stroke": "#000000", "strokeWidth": 1},
 "encoding": {"x": {"field": "i", "type": "quantitative"}, "y": {"field": "o", "type": "quantitative"}, "y2": {"field": "c"},
  "fill": {"condition": {"test": "datum.c >= datum.o", "value": "#ffffff"}, "value": "#000000"}}},
{"data": {"name": "ema"},
 "mark": {"type": "line", "strokeWidth": 2, "interpolate": "monotone"},
 "encoding": {"x": {"field": "i", "type": "quantitative"}, "y": {"field": "v", "type": "quantitative"},
  "color": {"field": "s", "type": "nominal", "scale": {"domain": ["233 EMA", "144 EMA", "55 EMA", "21 EMA"], "range": ["#a0522d", "#dc143c", "#008000", "#0000dd"]}, "legend": null}}},
{"data": {"name": "one"}, "mark": {"type": "text", "font": "Noto Sans", "fontSize": 12, "color": "#4a4a8e", "align": "center", "baseline": "middle"},
 "encoding": {"x": {"datum": 350.6, "type": "quantitative"}, "y": {"datum": 7647.5, "type": "quantitative"}, "text": {"value": "Tarihi Zirve"}}},
{"data": {"name": "one"}, "mark": {"type": "text", "font": "Noto Sans", "fontSize": 12, "color": "#b8652e", "align": "left", "baseline": "middle"},
 "encoding": {"x": {"datum": 88.8, "type": "quantitative"}, "y": {"datum": 7240.8, "type": "quantitative"}, "text": {"value": "Jeopolitik risklerin azalması ve beklenti üzerindeki bilançolar"}}},
{"data": {"name": "one"}, "mark": {"type": "text", "font": "Noto Sans", "fontSize": 12, "color": "#b8652e", "align": "left", "baseline": "middle"},
 "encoding": {"x": {"datum": 88.6, "type": "quantitative"}, "y": {"datum": 7196.8, "type": "quantitative"}, "text": {"value": "tarafından desteklenen trend"}}},
{"data": {"name": "one"}, "mark": {"type": "text", "font": "Noto Sans", "fontSize": 11, "color": "#0000dd", "align": "center", "baseline": "middle"},
 "encoding": {"x": {"datum": 319.8, "type": "quantitative"}, "y": {"datum": 7013, "type": "quantitative"}, "text": {"value": "21 EMA"}}},
{"data": {"name": "one"}, "mark": {"type": "text", "font": "Noto Sans", "fontSize": 11, "color": "#008000", "align": "center", "baseline": "middle"},
 "encoding": {"x": {"datum": 319.8, "type": "quantitative"}, "y": {"datum": 6984, "type": "quantitative"}, "text": {"value": "55 EMA"}}},
{"data": {"name": "one"}, "mark": {"type": "text", "font": "Noto Sans", "fontSize": 11, "color": "#e8173e", "align": "center", "baseline": "middle"},
 "encoding": {"x": {"datum": 319.8, "type": "quantitative"}, "y": {"datum": 6960.6, "type": "quantitative"}, "text": {"value": "144 EMA"}}},
{"data": {"name": "one"}, "mark": {"type": "text", "font": "Noto Sans", "fontSize": 11, "color": "#b0582f", "align": "center", "baseline": "middle"},
 "encoding": {"x": {"datum": 319.8, "type": "quantitative"}, "y": {"datum": 6936.5, "type": "quantitative"}, "text": {"value": "233 EMA"}}},
{"data": {"name": "one"}, "mark": {"type": "rule", "color": "#000000", "strokeWidth": 1},
 "encoding": {"x": {"datum": -1.0025, "type": "quantitative"}, "x2": {"datum": 467.9}, "y": {"datum": 7777, "type": "quantitative"}}},
{"data": {"name": "one"}, "mark": {"type": "rule", "color": "#000000", "strokeWidth": 1},
 "encoding": {"x": {"datum": -0.4, "type": "quantitative"}, "y": {"datum": 7777.7, "type": "quantitative"}, "y2": {"datum": 6263.45}}},
{"data": {"name": "one"}, "mark": {"type": "rule", "color": "#000000", "strokeWidth": 1},
 "encoding": {"x": {"datum": 467.9, "type": "quantitative"}, "y": {"datum": 7777.7, "type": "quantitative"}, "y2": {"datum": 6263.45}}},
{"data": {"name": "one"}, "mark": {"type": "rule", "color": "#000000", "strokeWidth": 1},
 "encoding": {"x": {"datum": -0.4, "type": "quantitative"}, "x2": {"datum": 467.9}, "y": {"datum": 6263.45, "type": "quantitative"}}},
{"data": {"name": "times"},
 "mark": {"type": "rule", "color": "#000000", "strokeWidth": 1},
 "encoding": {"x": {"field": "i", "type": "quantitative"}, "y": {"datum": 6263.45, "type": "quantitative"}, "y2": {"datum": 6255.4}}},
{"data": {"name": "times"},
 "mark": {"type": "text", "font": "Liberation Sans", "fontSize": 9.5, "color": "#000000", "align": "left", "baseline": "middle", "dx": 2},
 "encoding": {"x": {"field": "i", "type": "quantitative"}, "y": {"datum": 6247.4, "type": "quantitative"}, "text": {"field": "label"}}},
{"data": {"name": "ticks"},
 "mark": {"type": "rule", "color": "#000000", "strokeWidth": 1},
 "encoding": {"x": {"datum": 467.9, "type": "quantitative"}, "x2": {"datum": 468.8}, "y": {"field": "p", "type": "quantitative"}}},
{"data": {"name": "ticks"},
 "mark": {"type": "text", "font": "Liberation Sans", "fontSize": 9.5, "color": "#000000", "align": "left", "baseline": "middle"},
 "encoding": {"x": {"datum": 469.1, "type": "quantitative"}, "y": {"field": "p", "type": "quantitative"}, "text": {"field": "label"}}},
{"data": {"name": "levels"}, "transform": [{"filter": "datum.kind !== 'price'"}],
 "mark": {"type": "tick", "orient": "horizontal", "size": 42, "thickness": 12, "opacity": 1, "color": "#16166e"},
 "encoding": {"x": {"datum": 473.43, "type": "quantitative"}, "y": {"field": "p", "type": "quantitative"}}},
{"data": {"name": "levels"}, "transform": [{"filter": "datum.kind === 'price'"}],
 "mark": {"type": "tick", "orient": "horizontal", "size": 42, "thickness": 12, "opacity": 1, "color": "#000000"},
 "encoding": {"x": {"datum": 473.43, "type": "quantitative"}, "y": {"field": "p", "type": "quantitative"}}},
{"data": {"name": "levels"},
 "mark": {"type": "text", "font": "Liberation Sans", "fontSize": 9.5, "color": "#ffffff", "align": "center", "baseline": "middle"},
 "encoding": {"x": {"datum": 473.43, "type": "quantitative"}, "y": {"field": "p", "type": "quantitative"}, "text": {"field": "label"}}},
{"data": {"name": "one"}, "mark": {"type": "point", "shape": "triangle-down", "filled": true, "size": 18, "color": "#000000", "opacity": 1},
 "encoding": {"x": {"datum": 1.5, "type": "quantitative"}, "y": {"datum": 7760.5, "type": "quantitative"}}},
{"data": {"name": "one"}, "mark": {"type": "text", "font": "Liberation Sans", "fontSize": 9.5, "color": "#111111", "align": "left", "baseline": "middle"},
 "encoding": {"x": {"datum": 3.6, "type": "quantitative"}, "y": {"datum": 7760.8, "type": "quantitative"}, "text": {"value": "#S&P500,H4"}}}
]
}
